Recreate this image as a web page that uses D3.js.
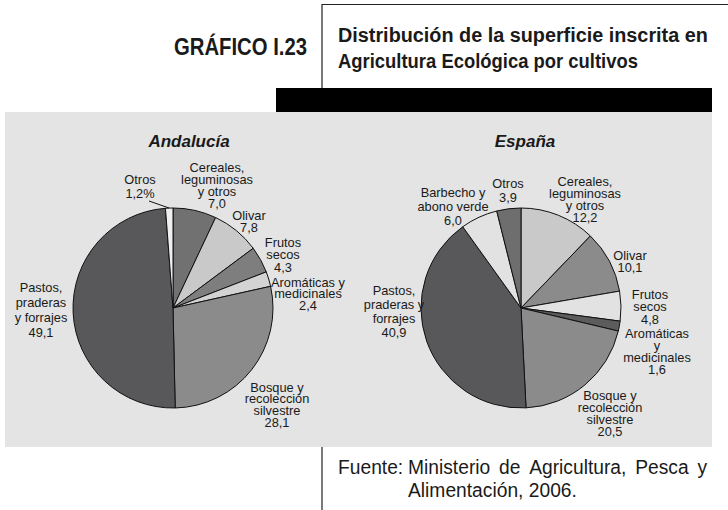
<!DOCTYPE html>
<html>
<head>
<meta charset="utf-8">
<script src="https://cdn.jsdelivr.net/npm/d3@7"></script>
<style>
  body { margin: 0; background: #fff; }
  svg text { font-family: "Liberation Sans", Arial, sans-serif; fill: #1a1a1a; }
  .lbl { font-size: 12.8px; }
</style>
</head>
<body>
<div class="graphic"></div>
<script>
// Andalucía
var andCats = ["Cereales,\nleguminosas\ny otros", "Olivar", "Frutos\nsecos", "Aromáticas y\nmedicinales",
  "Bosque y\nrecolección\nsilvestre", "Pastos,\npraderas\ny forrajes", "Otros"];
var andValues = [7.0, 7.8, 4.3, 2.4, 28.1, 49.1, 1.2];

// España
var espCats = ["Cereales,\nleguminosas\ny otros", "Olivar", "Frutos\nsecos", "Aromáticas\ny\nmedicinales",
  "Bosque y\nrecolección\nsilvestre", "Pastos,\npraderas y\nforrajes", "Barbecho y\nabono verde", "Otros"];
var espValues = [12.2, 10.1, 4.8, 1.6, 20.5, 40.9, 6.0, 3.9];

var andColors = ["#717171", "#c9c9c9", "#7e7e7e", "#d3d3d3", "#8b8b8b", "#58585a", "#efefef"];
var espColors = ["#c9c9c9", "#8b8b8b", "#e2e2e2", "#5c5c5c", "#8b8b8b", "#58585a", "#e2e2e2", "#6e6e6e"];

// label layout: [dx, dy of first line centre, line height]
var andLabelPos = [[44, -141, 12.2], [76, -93, 12], [110, -66, 12.5], [135, -26, 11.5],
  [104, 79, 11.8], [-132, -21, 15], [-33, -129, 14]];
var espLabelPos = [[64, -127, 12], [109, -53, 12], [129, -14, 12.5], [136, 25, 12],
  [89, 87, 12.3], [-127, -18, 14], [-68, -116, 14], [-13, -125, 14]];

var W = 728, H = 510, R = 100;
var fmt = function(v) { return v.toFixed(1).replace(".", ","); };

var svg = d3.select(".graphic").append("svg").attr("width", W).attr("height", H);

function natural(size, weight, str) {
  var t = svg.append("text").attr("font-size", size).attr("font-weight", weight).text(str);
  var l = t.node().getComputedTextLength();
  t.remove();
  return l;
}
// condensed text: scale horizontally to a given width
function squeeze(x, y, size, weight, width, str) {
  var sx = width / natural(size, weight, str);
  return svg.append("text")
    .attr("transform", "translate(" + x + "," + y + ") scale(" + sx + ",1)")
    .attr("font-size", size).attr("font-weight", weight)
    .text(str);
}

// header
squeeze(174, 55, 24, "bold", 133, "GRÁFICO I.23");
svg.append("path").attr("d", "M322,88V4.5H728").attr("fill", "none").attr("stroke", "#222").attr("stroke-width", 1.2);
squeeze(338, 42, 21, "bold", 370, "Distribución de la superficie inscrita en");
squeeze(338, 68, 21, "bold", 300, "Agricultura Ecológica por cultivos");
svg.append("rect").attr("x", 276).attr("y", 88).attr("width", 436).attr("height", 24).attr("fill", "#000");
svg.append("rect").attr("x", 5).attr("y", 112).attr("width", 707).attr("height", 335).attr("fill", "#e3e4e3");

function drawPie(cx, cy, title, titleDx, cats, values, colors, pos, pct) {
  var g = svg.append("g").attr("transform", "translate(" + cx + "," + cy + ")");
  g.append("text").attr("x", titleDx).attr("y", -161).attr("text-anchor", "middle")
    .attr("font-size", 17).attr("font-weight", "bold").attr("font-style", "italic").text(title);

  var pie = d3.pie().sort(null).value(function(d) { return d; });
  var arc = d3.arc().innerRadius(0).outerRadius(R);
  var arcs = pie(values);

  g.selectAll("path.slice").data(arcs).enter().append("path")
    .attr("class", "slice")
    .attr("d", arc)
    .attr("fill", function(d, i) { return colors[i]; })
    .attr("stroke", "#111")
    .attr("stroke-width", 1)
    .attr("stroke-linejoin", "round");

  arcs.forEach(function(d, i) {
    var p = pos[i];
    var lines = cats[i].split("\n");
    lines.push(fmt(values[i]) + (pct && i === values.length - 1 ? "%" : ""));
    var t = g.append("text").attr("class", "lbl").attr("text-anchor", "middle");
    lines.forEach(function(l, j) {
      t.append("tspan").attr("x", p[0]).attr("y", p[1] + 4.5 + j * p[2]).text(l);
    });
  });
  return { g: g, arcs: arcs };
}

var left = drawPie(173, 308, "Andalucía", 16, andCats, andValues, andColors, andLabelPos, true);
drawPie(521, 308, "España", 4, espCats, espValues, espColors, espLabelPos, false);

// leader for small "Otros" slice in Andalucía
var otros = left.arcs[left.arcs.length - 1];
var mid = (otros.startAngle + otros.endAngle) / 2 - Math.PI / 2;
left.g.append("line")
  .attr("x1", -24).attr("y1", -107)
  .attr("x2", Math.cos(mid) * R).attr("y2", Math.sin(mid) * R)
  .attr("stroke", "#111").attr("stroke-width", 1);

// source
svg.append("line").attr("x1", 322).attr("x2", 322).attr("y1", 447).attr("y2", 510)
  .attr("stroke", "#222").attr("stroke-width", 1.2);
var k = 169 / natural(21, "normal", "Alimentación, 2006.");
squeeze(338, 474, 21, "normal", natural(21, "normal", "Fuente:") * k, "Fuente:");
squeeze(408, 497, 21, "normal", 169, "Alimentación, 2006.");

// justified first line: place words one by one
var words = "Ministerio de Agricultura, Pesca y".split(" ");
var widths = words.map(function(w) { return natural(21, "normal", w) * k; });
var gap = (707 - 408 - d3.sum(widths)) / (words.length - 1);
var wx = 408;
words.forEach(function(w, i) {
  squeeze(wx, 474, 21, "normal", widths[i], w);
  wx += widths[i] + gap;
});
</script>
</body>
</html>
